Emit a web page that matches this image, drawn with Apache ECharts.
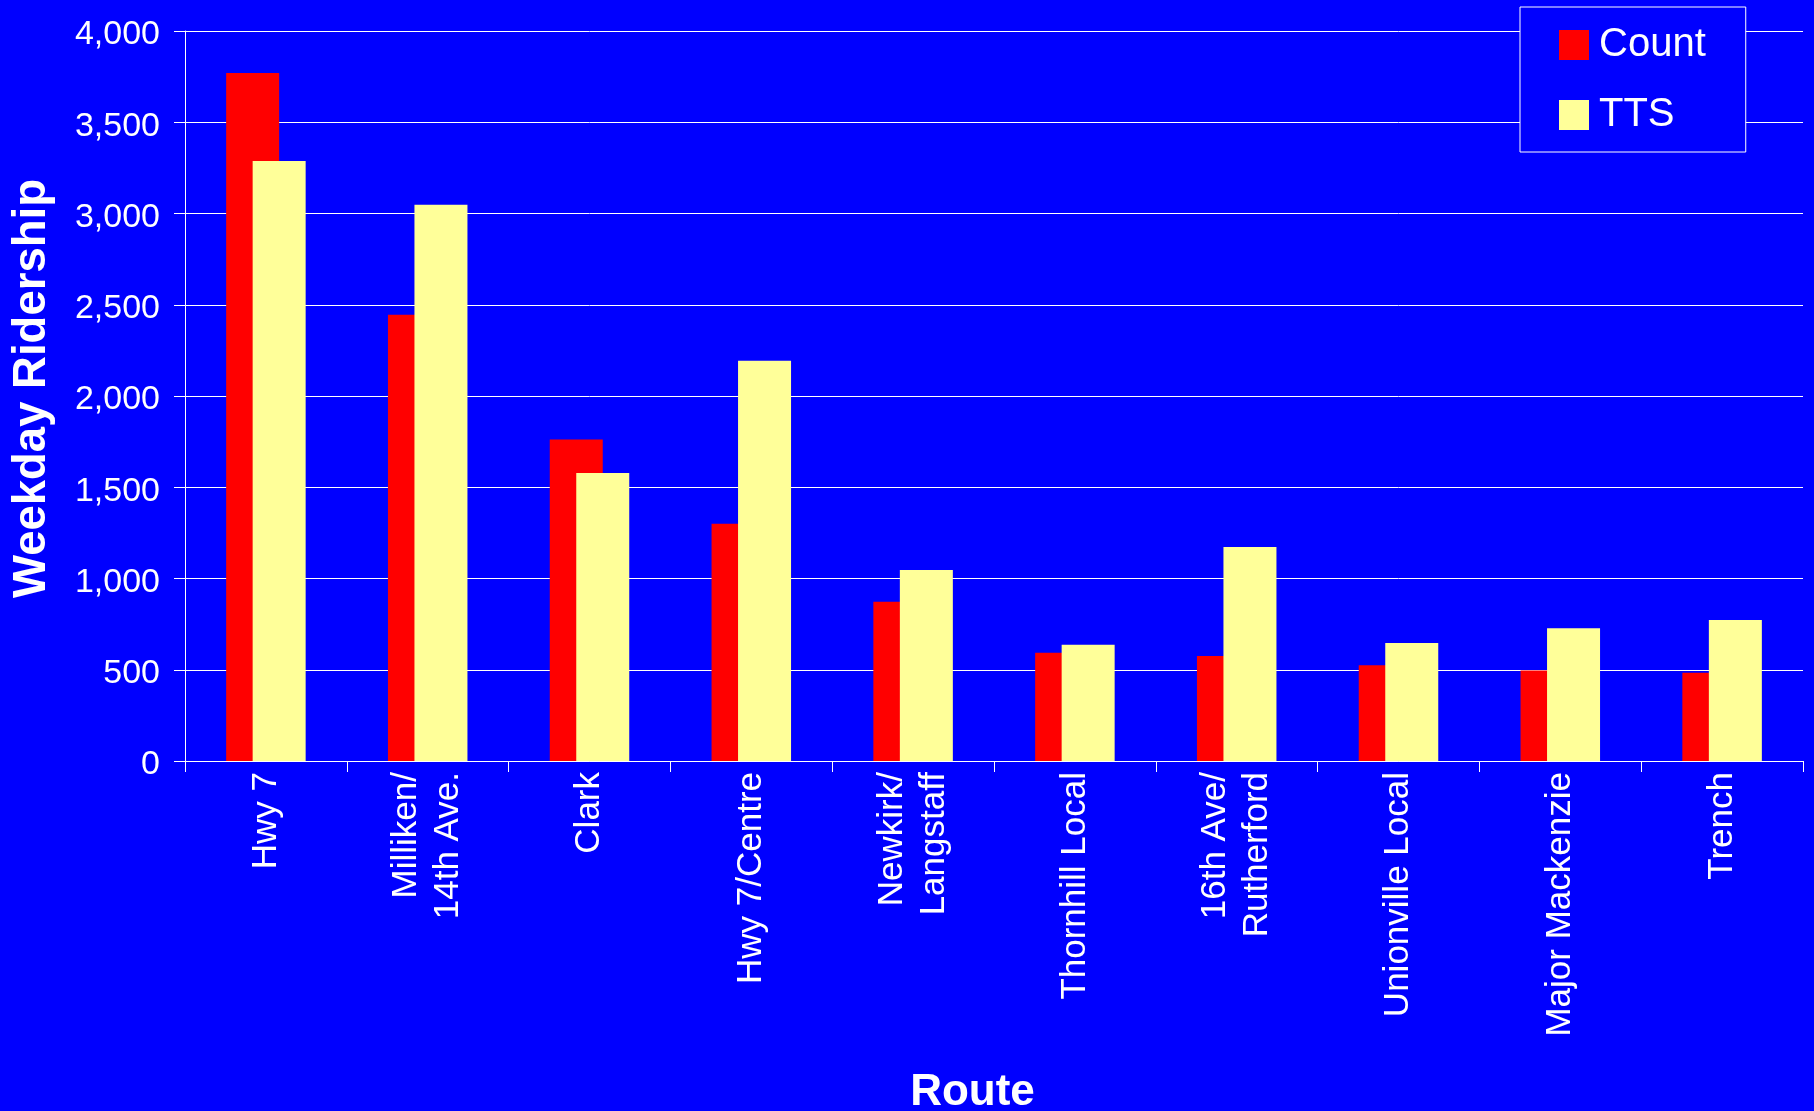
<!DOCTYPE html>
<html>
<head>
<meta charset="utf-8">
<script src="https://cdn.jsdelivr.net/npm/echarts@6/dist/echarts.min.js"></script>
<style>
  html, body { margin: 0; padding: 0; background: #0000ff; }
  #chart { width: 1814px; height: 1111px; }
</style>
</head>
<body>
<div id="chart"></div>
<script>
const routes = ['Hwy 7', 'Milliken/\n14th Ave.', 'Clark', 'Hwy 7/Centre', 'Newkirk/\nLangstaff',
  'Thornhill Local', '16th Ave/\nRutherford', 'Unionville Local', 'Major Mackenzie', 'Trench'];
const countValues = [3770, 2445, 1762, 1300, 872, 593, 576, 525, 496, 483];
const ttsValues = [3288, 3048, 1578, 2193, 1046, 637, 1173, 646, 728, 772];
const seriesNames = ['Count', 'TTS'];
const yMin = 0, yMax = 4000, yStep = 500;

const FONT = '"Liberation Sans", Arial, sans-serif';
const chart = echarts.init(document.getElementById('chart'), null, { renderer: 'canvas' });
chart.setOption({
  backgroundColor: '#0000ff',
  animation: false,
  textStyle: { fontFamily: FONT, color: '#ffffff' },
  grid: { left: 185, right: 11, top: 31, bottom: 350, containLabel: false, outerBoundsMode: 'none' },
  legend: {
    orient: 'vertical',
    left: 1520, top: 7,
    padding: [18, 40, 17, 39],
    itemWidth: 30, itemHeight: 30, itemGap: 30,
    borderColor: '#ffffff', borderWidth: 1,
    backgroundColor: '#0000ff',
    icon: 'rect',
    textStyle: { fontFamily: FONT, fontSize: 40, color: '#ffffff', padding: [0, 0, 0, 5] },
    data: seriesNames
  },
  xAxis: {
    type: 'category',
    data: routes,
    name: 'Route',
    nameLocation: 'middle',
    nameGap: 310,
    nameTextStyle: { fontFamily: FONT, fontSize: 44, fontWeight: 'bold', color: '#ffffff', padding: [0, 43, 0, 0], lineHeight: 44 },
    axisLine: { show: true, lineStyle: { color: '#ffffff', width: 1 } },
    axisTick: { show: true, length: 11, lineStyle: { color: '#ffffff', width: 1 } },
    axisLabel: { rotate: 90, interval: 0, margin: 11, fontFamily: FONT, fontSize: 35, lineHeight: 42, color: '#ffffff' },
    splitLine: { show: false }
  },
  yAxis: {
    type: 'value',
    min: yMin, max: yMax, interval: yStep,
    name: 'Weekday Ridership',
    nameLocation: 'middle',
    nameGap: 130,
    nameTextStyle: { fontFamily: FONT, fontSize: 45.5, fontWeight: 'bold', color: '#ffffff', padding: [0, 0, 0, 15], lineHeight: 46 },
    axisLine: { show: true, lineStyle: { color: '#ffffff', width: 1 } },
    axisTick: { show: true, length: 11, lineStyle: { color: '#ffffff', width: 1 } },
    axisLabel: {
      margin: 25, fontFamily: FONT, fontSize: 34, color: '#ffffff',
      formatter: function (v) { return '{v|' + echarts.format.addCommas(v) + '}'; },
      rich: { v: { fontFamily: FONT, fontSize: 34, color: '#ffffff', padding: [8, 0, 0, 0] } }
    },
    splitLine: { show: true, lineStyle: { color: '#ffffff', width: 1 } }
  },
  series: [
    { name: seriesNames[0], type: 'bar', data: countValues, barWidth: 53, barGap: '-50%',
      itemStyle: { color: '#ff0000' } },
    { name: seriesNames[1], type: 'bar', data: ttsValues, barWidth: 53, barGap: '-50%',
      itemStyle: { color: '#ffff99' } }
  ]
});
</script>
</body>
</html>
